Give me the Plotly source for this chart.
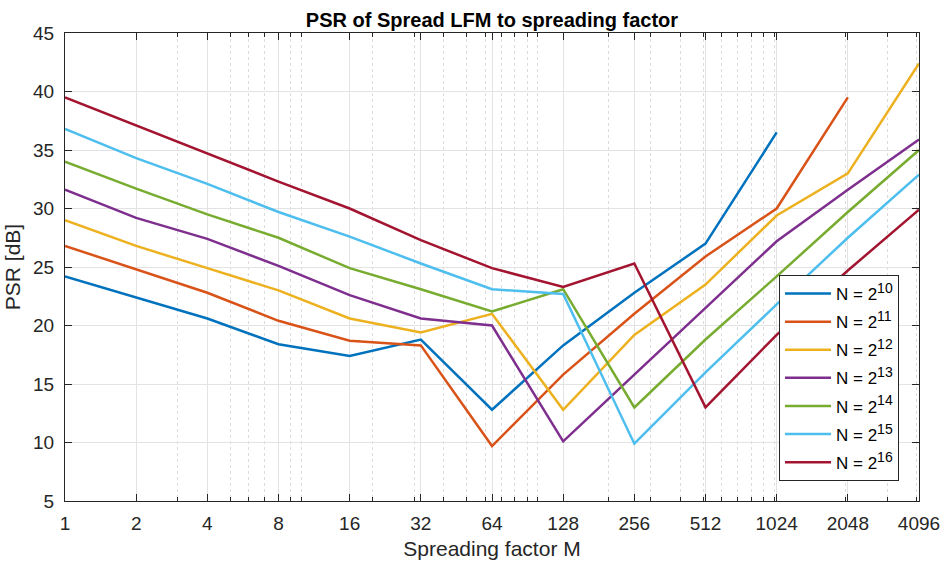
import plotly.graph_objects as go

M = [1, 2, 4, 8, 16, 32, 64, 128, 256, 512, 1024, 2048, 4096]
tick_labels = [str(v) for v in M]

psr_n10 = [24.2, 22.4, 20.6, 18.4, 17.4, 18.8, 12.8, 18.3, 22.8, 27.0, 36.5]
psr_n11 = [26.8, 24.8, 22.8, 20.4, 18.7, 18.3, 9.7, 15.8, 21.0, 25.9, 30.0, 39.5]
psr_n12 = [29.0, 26.8, 24.9, 23.0, 20.6, 19.4, 21.0, 12.8, 19.2, 23.5, 29.4, 33.0, 42.4]
psr_n13 = [31.6, 29.2, 27.4, 25.1, 22.6, 20.6, 20.0, 10.1, 15.8, 21.5, 27.2, 31.6, 35.9]
psr_n14 = [34.0, 31.7, 29.5, 27.5, 24.9, 23.1, 21.2, 23.1, 13.0, 18.8, 24.2, 29.7, 35.0]
psr_n15 = [36.8, 34.3, 32.1, 29.7, 27.6, 25.3, 23.1, 22.7, 9.9, 16.0, 21.8, 27.5, 32.9]
psr_n16 = [39.5, 37.1, 34.7, 32.3, 30.0, 27.3, 24.9, 23.3, 25.3, 13.0, 19.2, 24.7, 29.9]

exponents = [10, 11, 12, 13, 14, 15, 16]
colors = ["#0072BD", "#D95319", "#EDB120", "#7E2F8E", "#77AC30", "#4DBEEE", "#A2142F"]
all_series = [psr_n10, psr_n11, psr_n12, psr_n13, psr_n14, psr_n15, psr_n16]

minor_vals = []
for dec in [1, 10, 100, 1000]:
    for k in range(1, 10):
        v = k * dec
        if v <= 4096 and v not in M:
            minor_vals.append(v)

FONT = "Liberation Sans, Arial, sans-serif"

fig = go.Figure()
for e, vals, color in zip(exponents, all_series, colors):
    fig.add_trace(go.Scatter(
        x=M[:len(vals)], y=vals, mode="lines",
        name=f"N = 2<sup><span style='font-size:14px'>{e}</span></sup>",
        legendgroup=f"g{e}",
        line=dict(color=color, width=2.5),
    ))

tick_font = dict(family=FONT, size=19, color="#262626")

fig.update_layout(
    width=947, height=566,
    margin=dict(l=65, r=28, t=33, b=65),
    paper_bgcolor="white", plot_bgcolor="white",
    font=dict(family=FONT, size=17, color="#262626"),
    title=dict(
        text="<b>PSR of Spread LFM to spreading factor</b>",
        x=(65 + 919) / 2 / 947, xanchor="center", y=1 - 20 / 566, yanchor="middle",
        font=dict(family=FONT, size=20, color="#000000"),
    ),
    showlegend=True,
    legend=dict(
        x=(899 - 65) / 854, xanchor="right", y=(501 - 481) / 468, yanchor="bottom",
        bgcolor="white", bordercolor="#262626", borderwidth=1,
        font=dict(family=FONT, size=17, color="#000000"),
        itemwidth=46, tracegroupgap=3,
    ),
)

fig.update_xaxes(
    type="log", range=[0, 12 * 0.30103], automargin=False,
    tickmode="array", tickvals=M, ticktext=tick_labels,
    ticks="inside", ticklen=7, tickcolor="#262626", ticklabelstandoff=5,
    showline=True, linecolor="#262626", linewidth=1, mirror="allticks",
    showgrid=True, gridcolor="#e3e3e3", gridwidth=1,
    zeroline=False,
    minor=dict(tickmode="array", tickvals=minor_vals, ticks="inside", ticklen=4,
               tickcolor="#262626", showgrid=True, gridcolor="#dcdcdc", griddash="dot", gridwidth=1),
    title=dict(text="Spreading factor M", font=dict(family=FONT, size=21, color="#262626"), standoff=8),
    tickfont=tick_font,
)
fig.update_yaxes(
    range=[5, 45], tickmode="array", tickvals=list(range(5, 46, 5)), automargin=False,
    ticks="inside", ticklen=7, tickcolor="#262626", ticklabelstandoff=6,
    showline=True, linecolor="#262626", linewidth=1, mirror="allticks",
    showgrid=True, gridcolor="#e3e3e3", gridwidth=1,
    zeroline=False,
    title=dict(text="PSR [dB]", font=dict(family=FONT, size=21, color="#262626"), standoff=6),
    tickfont=tick_font,
)

fig.write_html("out.html")
